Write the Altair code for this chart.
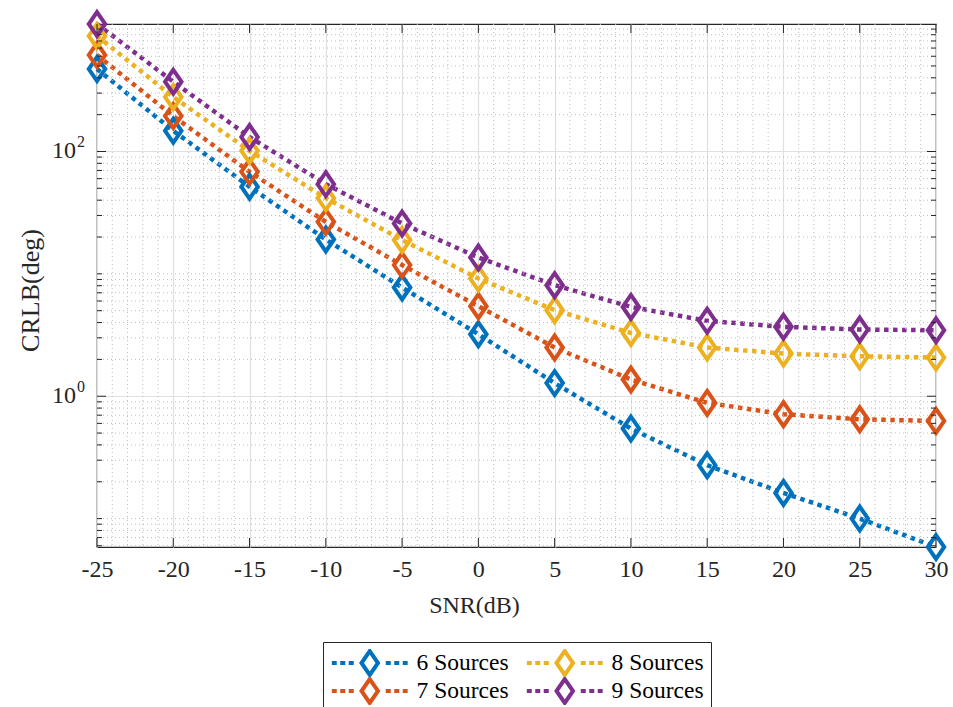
import math
import altair as alt
import pandas as pd

# ---------------- data ----------------
snr = [-25, -20, -15, -10, -5, 0, 5, 10, 15, 20, 25, 30]
crlb_6 = [472, 147.6, 51.5, 19.1, 7.74, 3.21, 1.28, 0.544, 0.273, 0.162, 0.100, 0.0586]
crlb_7 = [614, 194.7, 68.2, 26.6, 11.8, 5.44, 2.50, 1.37, 0.882, 0.713, 0.648, 0.628]
crlb_8 = [879, 278.6, 101.3, 41.6, 18.9, 9.17, 5.05, 3.29, 2.50, 2.23, 2.12, 2.07]
crlb_9 = [1101, 371.5, 131.2, 54.1, 25.8, 13.6, 8.08, 5.37, 4.13, 3.69, 3.51, 3.46]
series_names = ["6 Sources", "7 Sources", "8 Sources", "9 Sources"]
series_colors = ["#0072BD", "#D95319", "#EDB120", "#7E2F8E"]
x_ticks = [-25, -20, -15, -10, -5, 0, 5, 10, 15, 20, 25, 30]
y_ticks = [1, 100]

# ---------------- tables ----------------
rows = []
for name, vals in zip(series_names, [crlb_6, crlb_7, crlb_8, crlb_9]):
    for s, v in zip(snr, vals):
        rows.append({"series": name, "snr": s, "crlb": v})
df = pd.DataFrame(rows)

all_vals = crlb_6 + crlb_7 + crlb_8 + crlb_9
y_min, y_max = min(all_vals), max(all_vals)

x_minor = [v for v in range(x_ticks[0], x_ticks[-1] + 1) if v not in x_ticks]
y_minor = []
for n in range(-2, 4):
    for k in range(1, 10):
        v = k * 10.0 ** n
        if y_min <= v <= y_max and v not in y_ticks:
            y_minor.append(v)

xt_df = pd.DataFrame({"snr": x_ticks})
yt_df = pd.DataFrame({"crlb": y_ticks,
                      "base": ["10"] * len(y_ticks),
                      "exp": [str(int(round(math.log10(v)))) for v in y_ticks]})
xm_df = pd.DataFrame({"snr": x_minor})
ym_df = pd.DataFrame({"crlb": y_minor})

W, H = 839, 523
AX = "#262626"
FONT = "Liberation Serif"

xs = alt.Scale(domain=[x_ticks[0], x_ticks[-1]], nice=False, zero=False)
ys = alt.Scale(type="log", domain=[y_min, y_max], nice=False)
cscale = alt.Scale(domain=series_names, range=series_colors)

DIAMOND = "M0,-1.45L1,0L0,1.45L-1,0Z"
LEG_PATH = ("M-4.6,0H-4M-3.58,0H-2.97M-2.55,0H-1.94"
            "M1.94,0H2.55M2.97,0H3.58M4,0H4.6" + DIAMOND)

X_PLAIN = alt.X("snr:Q", scale=xs, title="SNR(dB)")
Y_PLAIN = alt.Y("crlb:Q", scale=ys, title="CRLB(deg)")

# ---------------- data layers (carry the axes) ----------------
lines = alt.Chart(df).mark_line(
    strokeWidth=4.5, strokeDash=[4.5, 4.5], strokeCap="butt"
).encode(
    x=alt.X("snr:Q", scale=xs, title="SNR(dB)",
            axis=alt.Axis(values=x_ticks, grid=True, gridColor="#e0e0e0", gridWidth=1.2,
                          ticks=False, tickSize=0, domain=False,
                          labelExpr="replace(datum.label, '\u2212', '-')",
                          labelFont=FONT, labelFontSize=24, labelColor=AX, labelPadding=10,
                          labelFlush=False,
                          titleFont=FONT, titleFontSize=24, titleFontWeight="normal",
                          titleColor=AX, titleX=377, titleY=58, titleBaseline="middle",
                          titleAlign="center")),
    y=alt.Y("crlb:Q", scale=ys, title="CRLB(deg)",
            axis=alt.Axis(values=y_ticks, grid=True, gridColor="#e0e0e0", gridWidth=1.2,
                          ticks=False, tickSize=0, domain=False, labels=False,
                          titleFont=FONT, titleFontSize=26, titleFontWeight="normal",
                          titleColor=AX, titleX=-67, titleY=266, titleBaseline="middle",
                          titleAlign="center", titleAngle=270)),
    color=alt.Color("series:N", scale=cscale),
    detail="series:N",
)

points = alt.Chart(df).mark_point(
    shape=DIAMOND, size=272, filled=False, strokeWidth=4, opacity=1
).encode(
    x=X_PLAIN,
    y=Y_PLAIN,
    color=alt.Color("series:N", scale=cscale,
                    legend=alt.Legend(title=None, orient="none", legendX=226, legendY=618,
                                      columns=2, symbolType=LEG_PATH, symbolSize=272,
                                      symbolStrokeWidth=4, symbolOffset=28, labelOffset=35,
                                      clipHeight=28,
                                      labelFont=FONT, labelFontSize=23.5, labelColor="black",
                                      labelLimit=400, padding=7, strokeColor=AX,
                                      fillColor="white", columnPadding=16, rowPadding=0)),
)

# ---------------- y tick labels (10 with superscript) ----------------
ylab_base = alt.Chart(yt_df).mark_text(
    font=FONT, fontSize=24, color=AX, align="right", baseline="middle"
).encode(y=Y_PLAIN, x=alt.value(-21), text="base:N")
ylab_exp = alt.Chart(yt_df).mark_text(
    font=FONT, fontSize=16, color=AX, align="left", baseline="middle", dy=-9
).encode(y=Y_PLAIN, x=alt.value(-20), text="exp:N")

# ---------------- grids ----------------
x_minor_grid = alt.Chart(xm_df).mark_rule(
    color="#bdbdbd", strokeWidth=1, strokeDash=[1, 3]
).encode(x=X_PLAIN)

y_minor_grid = alt.Chart(ym_df).mark_rule(
    color="#bdbdbd", strokeWidth=1, strokeDash=[1, 3]
).encode(y=Y_PLAIN)

# ---------------- inward ticks ----------------
TICK = dict(color=AX, strokeWidth=1)
xt_bottom = alt.Chart(xt_df).mark_rule(**TICK).encode(
    x=X_PLAIN, y=alt.value(H), y2=alt.value(H - 9))
xt_top = alt.Chart(xt_df).mark_rule(**TICK).encode(
    x=X_PLAIN, y=alt.value(0), y2=alt.value(9))
yt_left = alt.Chart(yt_df).mark_rule(**TICK).encode(
    y=Y_PLAIN, x=alt.value(0), x2=alt.value(9))
yt_right = alt.Chart(yt_df).mark_rule(**TICK).encode(
    y=Y_PLAIN, x=alt.value(W), x2=alt.value(W - 9))
ym_left = alt.Chart(ym_df).mark_rule(**TICK).encode(
    y=Y_PLAIN, x=alt.value(0), x2=alt.value(5))
ym_right = alt.Chart(ym_df).mark_rule(**TICK).encode(
    y=Y_PLAIN, x=alt.value(W), x2=alt.value(W - 5))

chart = alt.layer(
    lines, x_minor_grid, y_minor_grid, points, ylab_base, ylab_exp,
    xt_bottom, xt_top, yt_left, yt_right, ym_left, ym_right
).properties(
    width=W, height=H,
    autosize=alt.AutoSizeParams(type="none"),
    padding={"left": 97, "top": 24, "right": 17, "bottom": 160},
    background="white",
).configure(
    font=FONT
).configure_view(
    stroke=AX, strokeWidth=1.2
).configure_legend(
    labelFont=FONT
)

chart.save("out.html", embed_options={"renderer": "svg", "actions": False})
